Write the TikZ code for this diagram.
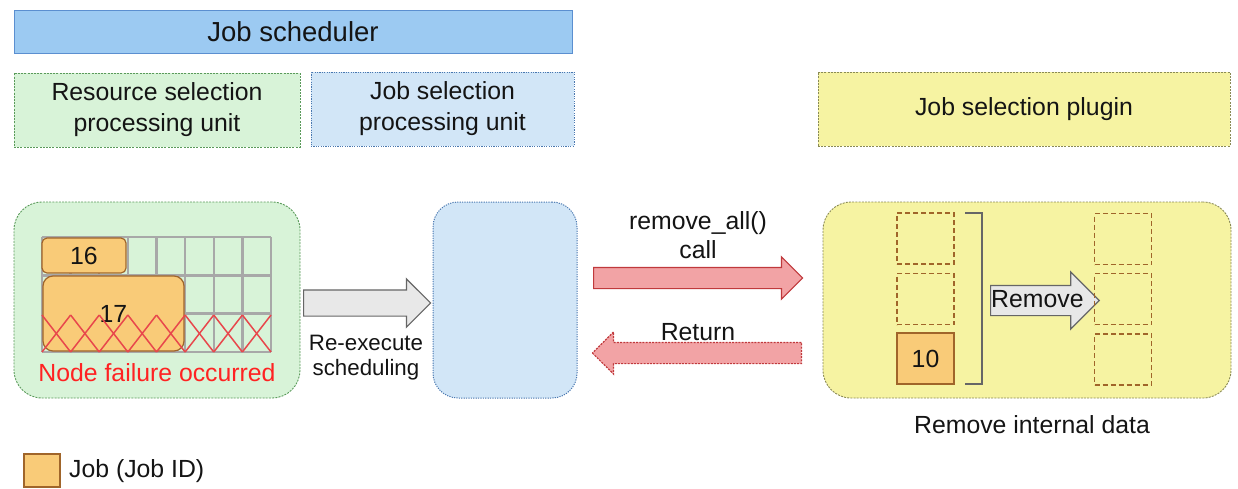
\documentclass[tikz,border=0pt]{standalone}
\usepackage{fontspec}
\setmainfont{Liberation Sans}
\usetikzlibrary{shapes.arrows}
\definecolor{ink}{HTML}{141414}
\definecolor{schedfill}{HTML}{9CCAF2}
\definecolor{schedline}{HTML}{5B8FD0}
\definecolor{greenfill}{HTML}{D8F3D8}
\definecolor{greenline}{HTML}{5A9A5A}
\definecolor{bluefill}{HTML}{D2E6F7}
\definecolor{blueline}{HTML}{4A78B0}
\definecolor{yellowfill}{HTML}{F6F3A2}
\definecolor{yellowline}{HTML}{8A8A55}
\definecolor{jobfill}{HTML}{F9CB78}
\definecolor{jobline}{HTML}{A0652A}
\definecolor{redfill}{HTML}{F2A3A5}
\definecolor{redline}{HTML}{C0393C}
\definecolor{grayfill}{HTML}{E8E8E8}
\definecolor{grayline}{HTML}{666666}
\definecolor{gridgray}{HTML}{A8A8A8}
\definecolor{failred}{HTML}{FF2222}
\definecolor{xred}{HTML}{E8474C}
\begin{document}
\begin{tikzpicture}[x=1pt,y=-1pt,
  every node/.style={text=ink, font=\fontsize{24.8}{27}\selectfont},
  titlebox/.style={draw=schedline, fill=schedfill, line width=1pt, font=\fontsize{27.5}{29}\selectfont},
  greenbox/.style={draw=greenline, fill=greenfill, line width=0.9pt, dash pattern=on 2pt off 1.2pt},
  bluebox/.style={draw=blueline, fill=bluefill, line width=1pt, dash pattern=on 1.2pt off 1.2pt},
  yellowbox/.style={draw=yellowline, fill=yellowfill, line width=0.9pt, dash pattern=on 2pt off 1.2pt},
  unitlabel/.style={align=center, inner sep=0pt},
  jobbox/.style={draw=jobline, fill=jobfill, line width=1.2pt},
  slotbox/.style={draw=jobline, line width=1.2pt, dash pattern=on 5pt off 3pt, minimum width=57pt, minimum height=51pt, inner sep=0pt},
  gridline/.style={draw=gridgray, line width=2.4pt},
  crossline/.style={draw=xred, line width=1.5pt},
  blockarrow/.style={single arrow, inner sep=0pt, minimum width=0pt, line width=1.2pt},
  caption/.style={align=center, inner sep=0pt}
]
\useasboundingbox (0,0) rectangle (1238,488);

% header row
\node[titlebox, minimum width=558pt, minimum height=43pt] (sched) at (293,31.5) {Job scheduler};
\node[greenbox, minimum width=286pt, minimum height=74pt, unitlabel] (rsel) at (157,110)
  {Resource selection\\[4pt]processing unit};
\node[bluebox, minimum width=263pt, minimum height=74pt, unitlabel] (jsel) at (442.5,109)
  {Job selection\\[4pt]processing unit};
\node[yellowbox, minimum width=412pt, minimum height=74pt] (plug) at (1024,109) {Job selection plugin};

% processing blocks
\node[greenbox, rounded corners=28pt, minimum width=286pt, minimum height=196pt] (res) at (157,300) {};
\node[bluebox, rounded corners=25pt, minimum width=144pt, minimum height=196pt] (mid) at (505,300) {};
\node[yellowbox, rounded corners=28pt, minimum width=408pt, minimum height=196pt] (plugbox) at (1027,300) {};

% resource grid: 8 nodes x 3 rows
\foreach \i in {0,...,8} \draw[gridline] (42+\i*28.625,237) -- (42+\i*28.625,352);
\foreach \j in {0,...,3} \draw[gridline] (42,237+\j*38.333) -- (271,237+\j*38.333);

\node[jobbox, rounded corners=5pt, minimum width=84pt, minimum height=35pt, inner sep=0pt] (j16) at (84,255.5) {16};
\node[jobbox, rounded corners=10pt, minimum width=141pt, minimum height=75pt, inner sep=0pt] (j17) at (113.5,313.5) {17};

% failed nodes in the bottom row
\foreach \i in {0,...,7} {
  \draw[crossline] (42+\i*28.625,315) -- (42+\i*28.625+28.625,352);
  \draw[crossline] (42+\i*28.625,352) -- (42+\i*28.625+28.625,315);
}
\node[text=failred, inner sep=0pt] (fail) at (157,373) {Node failure occurred};

% re-execute arrow
\node[blockarrow, draw=grayline, fill=grayfill, text height=12.5pt, text depth=12.5pt,
      single arrow head extend=11pt, minimum height=127pt, anchor=tail] (rerun) at (303,303) {};
\node[caption, font=\fontsize{22.3}{25}\selectfont] (reruntxt) at (366,358) {Re-execute\\scheduling};

% call / return arrows
\node[blockarrow, draw=redline, fill=redfill, text height=10pt, text depth=10pt,
      single arrow head extend=10.5pt, minimum height=209pt, anchor=tail] (callarr) at (593,278) {};
\node[blockarrow, draw=redline, fill=redfill, dash pattern=on 2pt off 1.2pt, text height=10pt, text depth=10pt,
      single arrow head extend=10.5pt, minimum height=209pt, shape border rotate=180, anchor=tail] (retarr) at (802,353) {};
\node[caption] (calltxt) at (698,235.5) {remove\_all()\\[2pt]call};
\node[caption] (rettxt) at (698,332) {Return};

% plugin internal data
\node[slotbox] (a1) at (925.5,238.5) {};
\node[slotbox] (a2) at (925.5,299) {};
\node[jobbox, minimum width=57pt, minimum height=51pt, inner sep=0pt] (j10) at (925.5,358.5) {10};
\coordinate (brtop) at (965,213);
\coordinate (brbot) at (965,384);
\draw[draw=grayline, line width=1.2pt] (brtop) -- ++(17,0) |- (brbot);

\node[blockarrow, draw=grayline, fill=grayfill, text height=21pt, text depth=8pt,
      single arrow head extend=13.5pt, minimum height=106pt, anchor=tail] (rm) at (990,300.5) {Remove};

\node[slotbox] (b1) at (1123,239) {};
\node[slotbox] (b2) at (1123,299) {};
\node[slotbox] (b3) at (1123,359.5) {};

\node[caption] (rmtxt) at (1032,425) {Remove internal data};

% legend
\node[jobbox, minimum width=36pt, minimum height=33pt, inner sep=0pt] (legbox) at (42,470.5) {};
\node[anchor=west, inner sep=0pt] (legtxt) at (69,471) {Job (Job ID)};
\end{tikzpicture}
\end{document}
